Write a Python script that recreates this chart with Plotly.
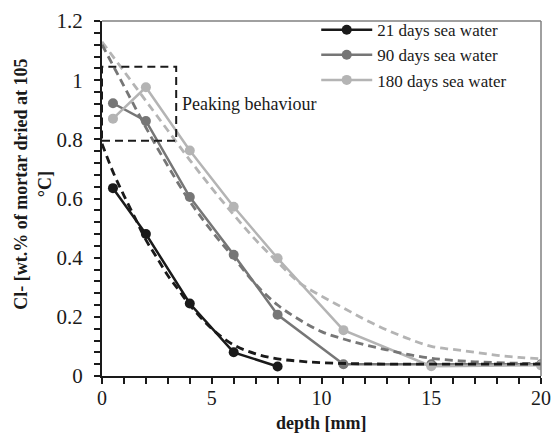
import plotly.graph_objects as go

# measured profiles
d21_x = [0.5, 2, 4, 6, 8]
d21_y = [0.635, 0.48, 0.245, 0.08, 0.032]
d90_x = [0.5, 2, 4, 6, 8, 11, 15, 20]
d90_y = [0.922, 0.862, 0.605, 0.41, 0.207, 0.04, 0.04, 0.04]
d180_x = [0.5, 2, 4, 6, 8, 11, 15, 20]
d180_y = [0.87, 0.976, 0.762, 0.572, 0.398, 0.155, 0.033, 0.036]

# fitted curves
f21_x = [0, 0.5, 1, 1.5, 2, 2.5, 3, 3.5, 4, 5, 6, 7, 8, 9, 10, 12, 15, 20]
f21_y = [0.785, 0.69, 0.61, 0.535, 0.46, 0.40, 0.34, 0.29, 0.24, 0.16, 0.105, 0.075, 0.058, 0.05, 0.045, 0.041, 0.04, 0.04]
f90_x = list(range(0, 21))
f90_y = [1.12, 0.98, 0.84, 0.71, 0.59, 0.49, 0.40, 0.31, 0.24, 0.19, 0.15, 0.125, 0.105, 0.088, 0.072,
         0.06, 0.053, 0.048, 0.045, 0.043, 0.042]
f180_x = list(range(0, 21))
f180_y = [1.13, 1.03, 0.93, 0.83, 0.73, 0.635, 0.545, 0.46, 0.385, 0.315, 0.27, 0.23, 0.19, 0.155, 0.125,
          0.10, 0.09, 0.08, 0.07, 0.063, 0.058]

names = ["21 days sea water", "90 days sea water", "180 days sea water"]
colors = ["#1a1a1a", "#767676", "#b4b4b4"]

FONT = "Liberation Serif"

fig = go.Figure()
for xs, ys, nm, c in zip([d21_x, d90_x, d180_x], [d21_y, d90_y, d180_y], names, colors):
    fig.add_trace(go.Scatter(x=xs, y=ys, mode="lines+markers", name=nm,
                             line=dict(color=c, width=2.5),
                             marker=dict(color=c, size=10)))
for xs, ys, c in zip([f180_x, f90_x, f21_x], [f180_y, f90_y, f21_y], colors[::-1]):
    fig.add_trace(go.Scatter(x=xs, y=ys, mode="lines", showlegend=False,
                             line=dict(color=c, width=2.8, dash="8px,5px", shape="spline")))

# peaking box
fig.add_shape(type="rect", x0=0, x1=3.38, y0=0.795, y1=1.045, xref="x", yref="y",
              line=dict(color="#1a1a1a", width=2, dash="8px,5px"))
fig.add_annotation(x=3.55, y=0.92, xref="x", yref="y", text="Peaking behaviour",
                   showarrow=False, xanchor="left", yanchor="middle",
                   font=dict(family=FONT, size=18, color="#1a1a1a"))
# top/right frame
fig.add_shape(type="line", x0=0, x1=1, y0=1, y1=1, xref="paper", yref="paper",
              line=dict(color="#808080", width=1.5))
fig.add_shape(type="line", x0=1, x1=1, y0=0, y1=1, xref="paper", yref="paper",
              line=dict(color="#808080", width=1.5))

fig.add_annotation(x=-0.157, y=0.539, xref="paper", yref="paper",
                   xanchor="center", yanchor="middle",
                   text="<b>Cl- [wt.% of mortar dried at 105<br>°C]</b>",
                   textangle=-90, showarrow=False,
                   font=dict(family=FONT, size=18, color="#1a1a1a"))
fig.add_annotation(x=0.5, y=-0.131, xref="paper", yref="paper",
                   xanchor="center", yanchor="middle",
                   text="<b>depth [mm]</b>", showarrow=False,
                   font=dict(family=FONT, size=18, color="#1a1a1a"))

fig.update_layout(
    width=553, height=433,
    margin=dict(l=102, r=12, t=21, b=57),
    paper_bgcolor="white", plot_bgcolor="white",
    font=dict(family=FONT, color="#1a1a1a"),
    showlegend=True,
    legend=dict(x=0.488, y=1.025, xanchor="left", yanchor="top",
                font=dict(family=FONT, size=17, color="#1a1a1a"),
                bgcolor="rgba(0,0,0,0)", tracegroupgap=0, itemwidth=51),
    xaxis=dict(range=[0, 20], tickvals=[0, 5, 10, 15, 20], showgrid=False, zeroline=False,
               showline=True, linecolor="#1a1a1a", linewidth=2, automargin=False,
               ticks="outside", ticklen=6, tickwidth=1.5, tickcolor="#1a1a1a",
               ticklabelstandoff=-3,
               minor=dict(dtick=1, ticks="outside", ticklen=6, tickwidth=1.5, tickcolor="#1a1a1a"),
               tickfont=dict(family=FONT, size=20)),
    yaxis=dict(range=[0, 1.2], tickvals=[0, 0.2, 0.4, 0.6, 0.8, 1, 1.2],
               ticktext=["0", "0.2", "0.4", "0.6", "0.8", "1", "1.2"],
               showgrid=False, zeroline=False, automargin=False,
               showline=True, linecolor="#1a1a1a", linewidth=2,
               ticks="outside", ticklen=6, tickwidth=1.5, tickcolor="#1a1a1a",
               ticklabelstandoff=7,
               minor=dict(dtick=0.04, tick0=0, ticks="outside", ticklen=6, tickwidth=1.5, tickcolor="#1a1a1a"),
               tickfont=dict(family=FONT, size=21)),
)

fig.write_html("out.html")
